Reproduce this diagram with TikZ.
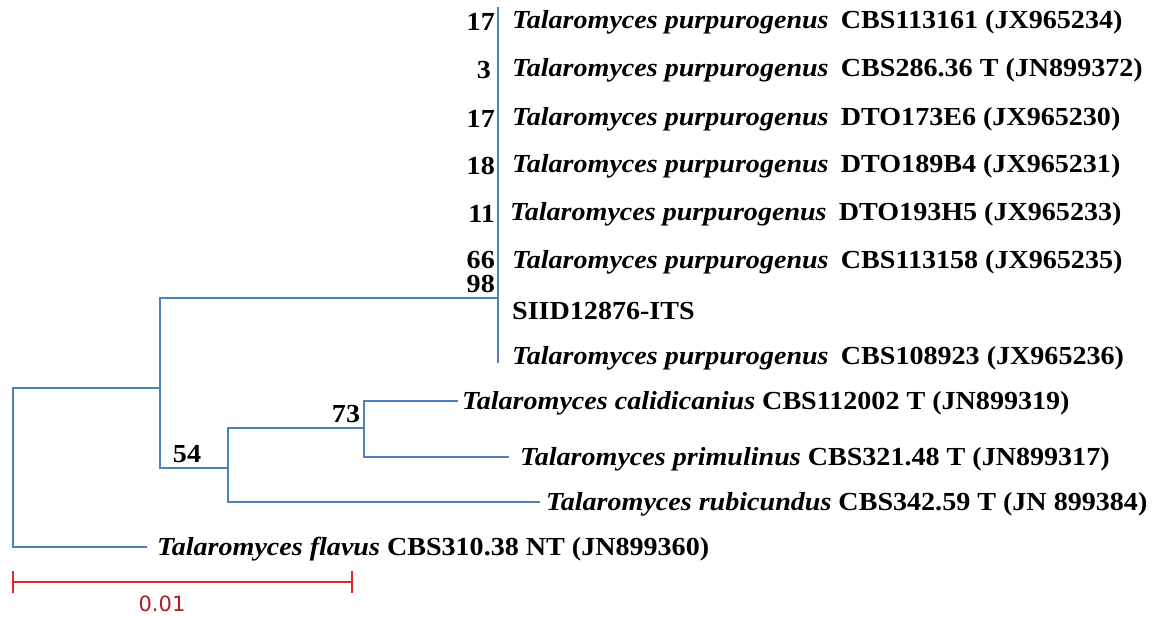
\documentclass[tikz,border=0pt]{standalone}
\usepackage{fontspec}
\setmainfont{Liberation Serif}[FakeStretch=1.08]
\newfontfamily\scalefont{DejaVu Sans}
\usetikzlibrary{positioning,calc}
\definecolor{treeblue}{RGB}{79,129,189}
\definecolor{barred}{RGB}{225,40,40}
\definecolor{scalered}{RGB}{170,30,40}

\begin{document}
\begin{tikzpicture}[x=1pt,y=-1pt]
                    \tikzstyle{every node}=[inner sep=0,font=\fontsize{26}{30}\selectfont\bfseries]
                    \tikzstyle{branch}=[draw=treeblue,line width=1.4pt]
                    \tikzstyle{taxon}=[anchor=west]
                    \tikzstyle{leaf}=[taxon,yshift=-2]
                    \tikzstyle{boot}=[anchor=east]
                    \useasboundingbox (0,0) rectangle (1155,617);
                    {
                        % inner nodes of the tree
                        \coordinate (root) at (13,467);
                        \coordinate (nA) at (160,388);
                        \coordinate (n54) at (228,468);
                        \coordinate (n73) at (364,428);
                        \coordinate (nP) at (498,298);
                        \coordinate (ptop) at (498,7);
                        \coordinate (pbot) at (498,363);
                        \coordinate (ecal) at (458,401);
                        \coordinate (epri) at (509,457);
                        \coordinate (erub) at (540,502);
                        \coordinate (efla) at (147,547);

                        % purpurogenus clade
                        \node[taxon] (t1) at (512,22) {\textit{Talaromyces purpurogenus}\hspace{0.2em} CBS113161 (JX965234)};
                        \node[taxon] (t2) at (512,70) {\textit{Talaromyces purpurogenus}\hspace{0.2em} CBS286.36 T (JN899372)};
                        \node[taxon] (t3) at (512,119) {\textit{Talaromyces purpurogenus}\hspace{0.2em} DTO173E6 (JX965230)};
                        \node[taxon] (t4) at (512,166) {\textit{Talaromyces purpurogenus}\hspace{0.2em} DTO189B4 (JX965231)};
                        \node[taxon] (t5) at (510,214) {\textit{Talaromyces purpurogenus}\hspace{0.2em} DTO193H5 (JX965233)};
                        \node[taxon] (t6) at (512,262) {\textit{Talaromyces purpurogenus}\hspace{0.2em} CBS113158 (JX965235)};
                        \node[taxon] (t7) at (512,311) {SIID12876-ITS};
                        \node[taxon] (t8) at (512,358) {\textit{Talaromyces purpurogenus}\hspace{0.2em} CBS108923 (JX965236)};

                        \node[leaf] (tcal) [right=4 of ecal] {\textit{Talaromyces calidicanius} CBS112002 T (JN899319)};
                        \node[leaf] (tpri) [right=11 of epri] {\textit{Talaromyces primulinus} CBS321.48 T (JN899317)};
                        \node[leaf] (trub) [right=6 of erub] {\textit{Talaromyces rubicundus} CBS342.59 T (JN 899384)};
                        \node[leaf] (tfla) [right=10 of efla] {\textit{Talaromyces flavus} CBS310.38 NT (JN899360)};

                        % bootstrap values
                        \node[boot] (b1) at (495,22) {17};
                        \node[boot] (b2) at (491,70) {3};
                        \node[boot] (b3) at (495,119) {17};
                        \node[boot] (b4) at (495,166) {18};
                        \node[boot] (b5) at (495,214) {11};
                        \node[boot] (b6) at (495,260) {66};
                        \node[boot] (b98) at (495,284) {98};
                        \node (b54) at (187,454) {54};
                        \node (b73) at (346,414) {73};

                        \path[branch]
                            (root) |- (nA)
                            (root) |- (efla)
                            (nA) |- (nP)
                            (nA) |- (n54)
                            (n54) |- (n73)
                            (n54) |- (erub)
                            (n73) |- (ecal)
                            (n73) |- (epri)
                            (ptop) -- (pbot);

                        % scale bar
                        \coordinate (sl) at (13,582);
                        \coordinate (sr) at (352,582);
                        \draw[barred,line width=1.4pt] (sl) -- (sr)
                            ($(sl)+(0,-11)$) -- ($(sl)+(0,11)$)
                            ($(sr)+(0,-11)$) -- ($(sr)+(0,11)$);
                        \node[text=scalered,font=\scalefont\fontsize{21}{24}\selectfont] (scale) at (162,604) {0.01};
                    }
                \end{tikzpicture}
\end{document}
